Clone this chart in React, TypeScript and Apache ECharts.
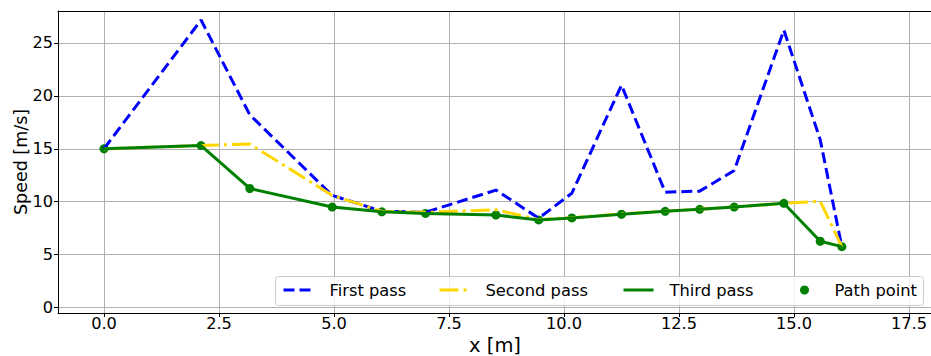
import React, { useEffect, useRef } from "react";
import * as echarts from "echarts";

const xPos = [0.0, 2.11, 3.17, 4.96, 6.04, 6.99, 8.52, 9.45, 10.17, 11.25, 12.2, 12.95, 13.7, 14.78, 15.57, 16.04];
const firstPass = [15.0, 27.15, 18.2, 10.6, 9.1, 9.0, 11.1, 8.45, 10.8, 21.0, 10.9, 11.0, 12.95, 26.2, 15.85, 5.75];
const secondPass = [15.0, 15.3, 15.45, 10.6, 9.1, 9.0, 9.25, 8.3, 8.5, 8.85, 9.1, 9.3, 9.5, 9.85, 10.05, 5.75];
const thirdPass = [15.0, 15.3, 11.25, 9.5, 9.05, 8.9, 8.75, 8.28, 8.47, 8.82, 9.1, 9.28, 9.5, 9.85, 6.27, 5.76];
const pathPoints = thirdPass;

const xTicks = [0, 2.5, 5, 7.5, 10, 12.5, 15, 17.5];
const yTicks = [0, 5, 10, 15, 20, 25];
const seriesNames = ["First pass", "Second pass", "Third pass", "Path point"];

const FONT = "DejaVu Sans";
const TICK_FS = 16.2;
const LEGEND_FS = 16.3;

function pairs(ys: number[]) {
  return xPos.map((x, i) => [x, ys[i]]);
}

export default function App() {
  const ref = useRef<HTMLDivElement>(null);
  useEffect(() => {
    if (!ref.current) return;
    const chart = echarts.init(ref.current, null, { renderer: "svg" });
    const legendCommon = {
      orient: "horizontal",
      padding: 0,
      itemWidth: 30,
      itemHeight: 15,
      itemGap: 0,
      top: 282,
      selectedMode: false,
      textStyle: { fontSize: LEGEND_FS, color: "#000", fontFamily: FONT },
      lineStyle: { width: 3 },
    };
    const option: any = {
      animation: false,
      grid: { left: 58, top: 11, right: -1, bottom: 43, outerBoundsMode: "none", containLabel: false },
      xAxis: [
        {
          type: "value",
          min: -1,
          max: 18,
          name: "x [m]",
          nameLocation: "middle",
          nameGap: 20,
          nameTextStyle: { fontSize: 19.5, color: "#000", fontFamily: FONT },
          axisLine: { show: true, onZero: false, lineStyle: { color: "#000", width: 1 } },
          axisTick: { show: true, length: 4, customValues: xTicks, lineStyle: { color: "#000", width: 1 } },
          axisLabel: {
            customValues: xTicks,
            formatter: (v: number) => v.toFixed(1),
            fontSize: TICK_FS,
            color: "#000",
            fontFamily: FONT,
            margin: 2,
          },
          splitLine: { show: true, lineStyle: { color: "#b0b0b0", width: 1 } },
        },
        {
          type: "value",
          position: "top",
          min: -1,
          max: 18,
          axisLine: { show: true, onZero: false, lineStyle: { color: "#000", width: 1 } },
          axisTick: { show: false },
          axisLabel: { show: false },
          splitLine: { show: false },
        },
      ],
      yAxis: {
        type: "value",
        min: -0.5,
        max: 28,
        name: "Speed [m/s]",
        nameLocation: "middle",
        nameGap: 28,
        nameMoveOverlap: false,
        nameTextStyle: { fontSize: 17.5, color: "#000", fontFamily: FONT },
        axisLine: { show: true, onZero: false, lineStyle: { color: "#000", width: 1 } },
        axisTick: { show: true, length: 4, customValues: yTicks, lineStyle: { color: "#000", width: 1 } },
        axisLabel: {
          customValues: yTicks,
          fontSize: TICK_FS,
          color: "#000",
          fontFamily: FONT,
          margin: 5,
        },
        splitLine: { show: true, lineStyle: { color: "#b0b0b0", width: 1 } },
      },
      legend: [
        { ...legendCommon, data: [seriesNames[0]], left: 282, itemStyle: { opacity: 0 }, textStyle: { ...legendCommon.textStyle, padding: [0, 0, 0, 11] } },
        { ...legendCommon, data: [seriesNames[1]], left: 438, itemStyle: { opacity: 0 }, textStyle: { ...legendCommon.textStyle, padding: [0, 0, 0, 11] } },
        { ...legendCommon, data: [seriesNames[2]], left: 622, itemStyle: { opacity: 0 }, textStyle: { ...legendCommon.textStyle, padding: [0, 0, 0, 11] } },
        {
          ...legendCommon,
          data: [{ name: seriesNames[3], icon: "circle" }],
          left: 800,
          itemHeight: 9,
          itemStyle: { opacity: 1 },
          textStyle: { ...legendCommon.textStyle, padding: [0, 0, 0, 10] },
        },
      ],
      graphic: [
        {
          type: "rect",
          z: 3,
          shape: { x: 275.5, y: 276.5, width: 648, height: 29, r: 3 },
          style: { fill: "rgba(255,255,255,0.8)", stroke: "#cccccc", lineWidth: 1 },
        },
      ],
      series: [
        {
          name: seriesNames[0],
          type: "line",
          data: pairs(firstPass),
          symbol: "none",
          lineStyle: { color: "#0000ff", width: 3, type: [11, 5], cap: "butt" },
          itemStyle: { color: "#0000ff" },
        },
        {
          name: seriesNames[1],
          type: "line",
          data: pairs(secondPass),
          symbol: "none",
          lineStyle: { color: "#ffd700", width: 3, type: [19, 5, 3, 5], cap: "butt" },
          itemStyle: { color: "#ffd700" },
        },
        {
          name: seriesNames[2],
          type: "line",
          data: pairs(thirdPass),
          symbol: "none",
          lineStyle: { color: "#008000", width: 3, join: "round" },
          itemStyle: { color: "#008000" },
        },
        {
          name: seriesNames[3],
          type: "scatter",
          data: pairs(pathPoints),
          symbol: "circle",
          symbolSize: 9,
          itemStyle: { color: "#008000", opacity: 1 },
        },
      ],
    };
    chart.setOption(option);
    return () => chart.dispose();
  }, []);
  return (
    <div
      ref={ref}
      style={{ position: "fixed", left: 0, top: 0, width: 931, height: 356, background: "#fff" }}
    />
  );
}
